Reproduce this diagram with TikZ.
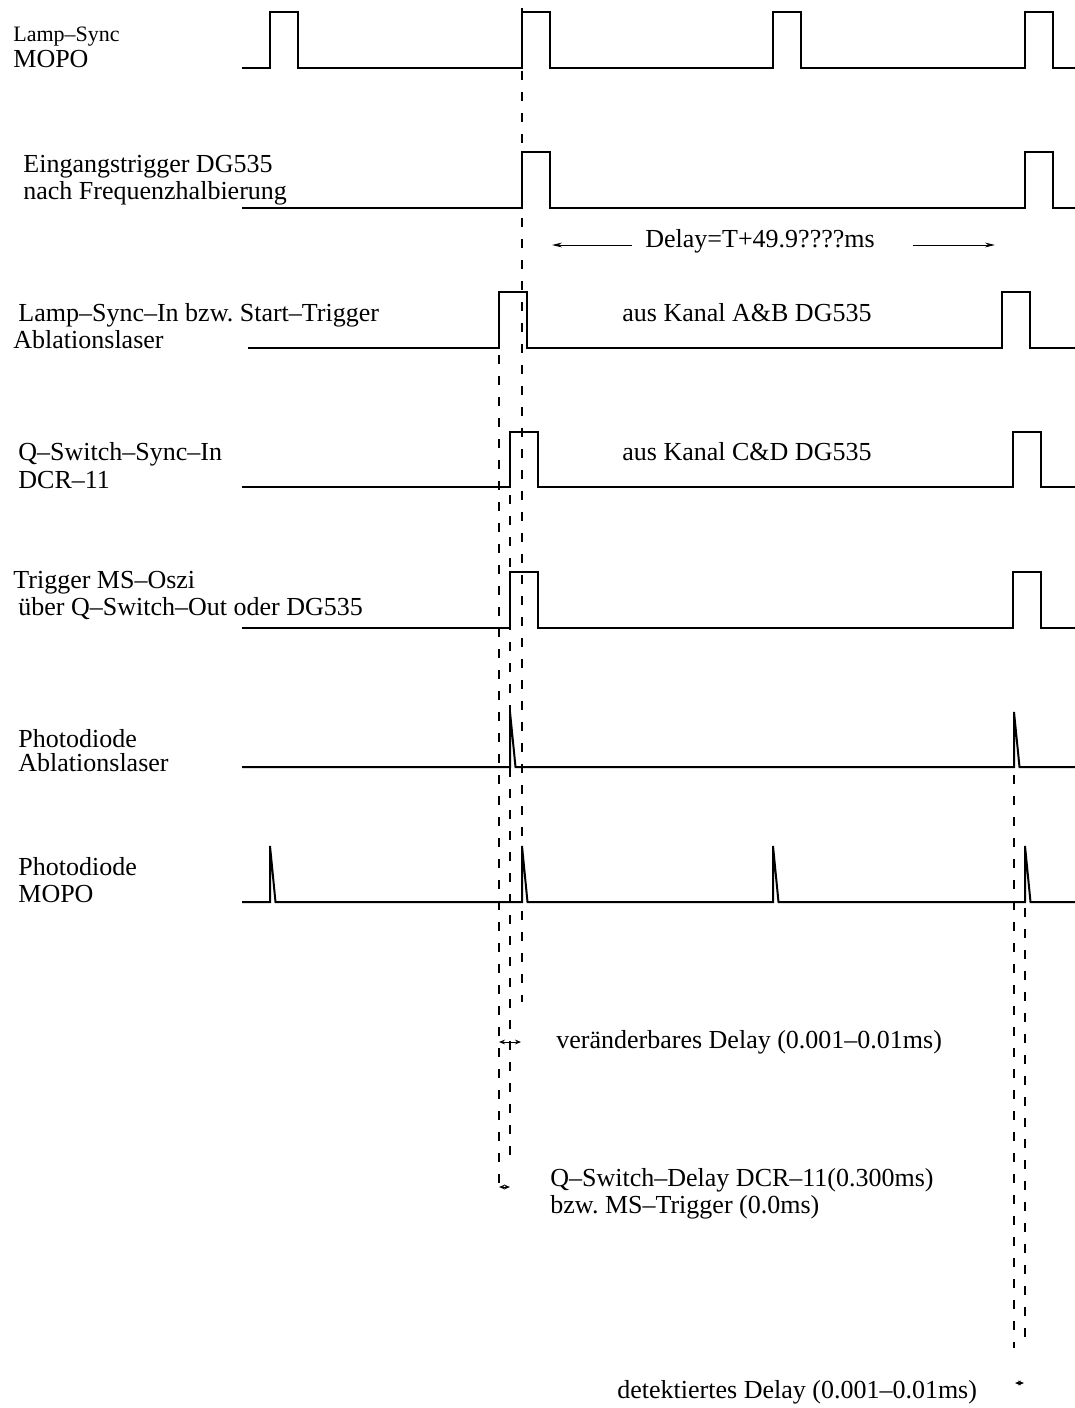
\documentclass[tikz,border=0pt]{standalone}
\usepackage{fontspec}
\setmainfont{Liberation Serif}
\usetikzlibrary{arrows.meta}
\frenchspacing

\begin{document}
\begin{tikzpicture}[
  x=0.5pt, y=-0.5pt,
  wave/.style={line width=1pt, line join=miter},
  guide/.style={line width=1pt, dash pattern=on 4.5pt off 6pt},
  sig/.style={anchor=base west, inner sep=0pt, font=\fontsize{13}{13.5}\selectfont},
  smallsig/.style={sig, font=\fontsize{11}{12}\selectfont},
  arrow/.style={-{Stealth[length=5pt, width=2.4pt]}, line width=0.5pt},
  gapmark/.style={{Stealth[length=3pt, width=2.4pt]}-{Stealth[length=3pt, width=2.4pt]}, line width=0.5pt}
]
\useasboundingbox (0,0) rectangle (1075,1408);

\node[smallsig] (r1a) at (13,41) {Lamp–Sync};
\node[sig] (r1b) at (13,67) {MOPO};
\node[sig] (r2a) at (23,172) {Eingangstrigger DG535};
\node[sig] (r2b) at (23,199) {nach Frequenzhalbierung};
\node[sig] (r3a) at (18,321) {Lamp–Sync–In bzw. Start–Trigger};
\node[sig] (r3b) at (13,348) {Ablationslaser};
\node[sig] (r4a) at (18,460) {Q–Switch–Sync–In};
\node[sig] (r4b) at (18,488) {DCR–11};
\node[sig] (r5a) at (13,588) {Trigger MS–Oszi};
\node[sig] (r5b) at (18,615) {über Q–Switch–Out oder DG535};
\node[sig] (r6a) at (18,747) {Photodiode};
\node[sig] (r6b) at (18,771) {Ablationslaser};
\node[sig] (r7a) at (18,875) {Photodiode};
\node[sig] (r7b) at (18,902) {MOPO};

\draw[wave] (242,68) \foreach \t in {270,522,773,1025} { -- (\t,68) -- (\t,12) -- (\t+27.5,12) -- (\t+27.5,68) } -- (1075,68);
\draw[wave] (242,208) \foreach \t in {522,1025} { -- (\t,208) -- (\t,152) -- (\t+27.5,152) -- (\t+27.5,208) } -- (1075,208);
\draw[wave] (248,348) \foreach \t in {499,1002} { -- (\t,348) -- (\t,292) -- (\t+28,292) -- (\t+28,348) } -- (1075,348);
\draw[wave] (242,487) \foreach \t in {510,1013} { -- (\t,487) -- (\t,432) -- (\t+28,432) -- (\t+28,487) } -- (1075,487);
\draw[wave] (242,628) \foreach \t in {510,1013} { -- (\t,628) -- (\t,572) -- (\t+28,572) -- (\t+28,628) } -- (1075,628);
\draw[wave] (242,767) \foreach \t in {510,1014} { -- (\t,767) -- (\t,712) -- (\t+5.5,767) } -- (1075,767);
\draw[wave] (242,902) \foreach \t in {270,522,773,1025} { -- (\t,902) -- (\t,846) -- (\t+5.5,902) } -- (1075,902);

\draw[guide] (521.5,8) -- (521.5,1002);
\draw[guide] (510,495) -- (510,1158);
\draw[guide] (499,355) -- (499,1185);
\draw[guide] (1014,775) -- (1014,1348);
\draw[guide] (1025,908) -- (1025,1348);

\node[sig] (dly) at (645,247) {Delay=T+49.9????ms};
\coordinate (dl1) at (632,245);
\coordinate (dl2) at (552,245);
\coordinate (dr1) at (913,245);
\coordinate (dr2) at (995,245);
\draw[arrow] (dl1) -- (dl2);
\draw[arrow] (dr1) -- (dr2);

\node[sig] (kab) at (622,321) {aus Kanal A\&B DG535};
\node[sig] (kcd) at (622,460) {aus Kanal C\&D DG535};

\coordinate (v1) at (499,1042);
\coordinate (v2) at (521,1042);
\draw[gapmark] (v1) -- (v2);
\node[sig] (var) at (556,1048) {veränderbares Delay (0.001–0.01ms)};

\coordinate (q1) at (499,1187);
\coordinate (q2) at (510,1187);
\draw[gapmark] (q1) -- (q2);
\node[sig] (qsa) at (550,1186) {Q–Switch–Delay DCR–11(0.300ms)};
\node[sig] (qsb) at (550,1213) {bzw. MS–Trigger (0.0ms)};

\coordinate (e1) at (1015,1383);
\coordinate (e2) at (1024,1383);
\draw[gapmark] (e1) -- (e2);
\node[sig] (det) at (617,1398) {detektiertes Delay (0.001–0.01ms)};
\end{tikzpicture}
\end{document}
